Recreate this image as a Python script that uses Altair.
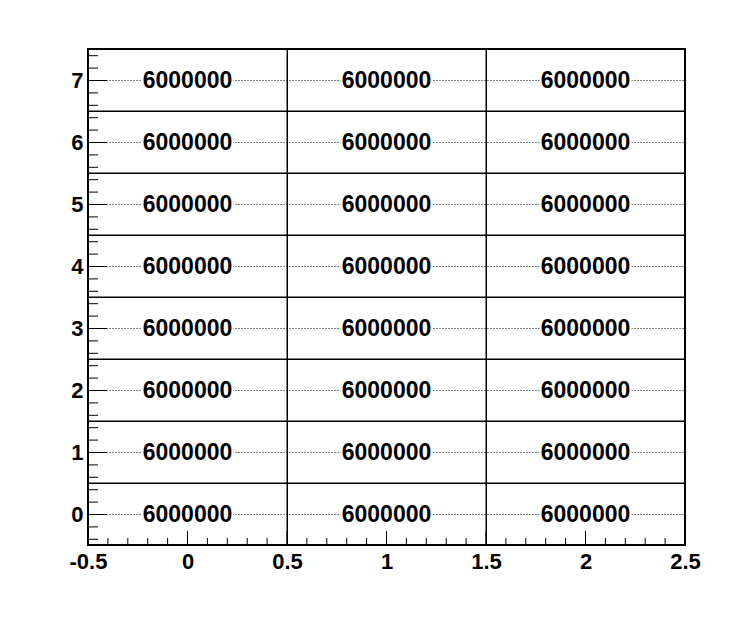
import altair as alt
import pandas as pd

# Bin centres and contents
x_centers = [0, 1, 2]
y_centers = [0, 1, 2, 3, 4, 5, 6, 7]
counts = [
    [6000000, 6000000, 6000000],  # y=0
    [6000000, 6000000, 6000000],  # y=1
    [6000000, 6000000, 6000000],  # y=2
    [6000000, 6000000, 6000000],  # y=3
    [6000000, 6000000, 6000000],  # y=4
    [6000000, 6000000, 6000000],  # y=5
    [6000000, 6000000, 6000000],  # y=6
    [6000000, 6000000, 6000000],  # y=7
]
x_major = [-0.5, 0, 0.5, 1, 1.5, 2, 2.5]
x_minor = [v / 10 for v in range(-5, 26) if v % 5 != 0]
y_major = [0, 1, 2, 3, 4, 5, 6, 7]
y_minor = [v / 10 for v in range(-4, 75, 2) if v % 10 != 0]

W, H = 597, 496
FONT = "Liberation Sans"

rows = []
for j, yv in enumerate(y_centers):
    for i, xv in enumerate(x_centers):
        rows.append({"x": xv, "y": yv, "x0": xv - 0.5, "x1": xv + 0.5,
                     "y0": yv - 0.5, "y1": yv + 0.5, "v": counts[j][i]})
cells = pd.DataFrame(rows)

xs = alt.Scale(domain=[-0.5, 2.5], nice=False, zero=False)
ys = alt.Scale(domain=[-0.5, 7.5], nice=False, zero=False)

xaxis = alt.Axis(values=x_major, grid=False, ticks=False, tickSize=0, domain=False,
                 labelFont=FONT, labelFontWeight="bold", labelFontSize=22,
                 labelColor="black", labelPadding=6, title=None,
                 labelExpr="'' + datum.value", labelFlush=False, labelOverlap=False)
yaxis = alt.Axis(values=y_major, grid=True, gridDash=[1, 2], gridColor="black",
                 gridOpacity=1, gridWidth=1, ticks=False, tickSize=0, domain=False,
                 labelFont=FONT, labelFontWeight="bold", labelFontSize=22,
                 labelColor="black", labelPadding=5, title=None,
                 labelExpr="'' + datum.value")

base = alt.Chart(cells)

boxes = base.mark_rect(fill=None, stroke="black", strokeWidth=1, xOffset=0.5, yOffset=0.5).encode(
    x=alt.X("x0:Q", scale=xs, axis=xaxis, title=None),
    x2="x1:Q",
    y=alt.Y("y0:Q", scale=ys, axis=yaxis, title=None),
    y2="y1:Q",
)

halo = base.mark_text(font=FONT, fontWeight="bold", fontSize=23, stroke="white",
                      strokeWidth=4, fill="white", baseline="middle", dy=1).encode(
    x=alt.X("x:Q", scale=xs, axis=xaxis, title=None),
    y=alt.Y("y:Q", scale=ys, axis=yaxis, title=None), text="v:N")
txt = base.mark_text(font=FONT, fontWeight="bold", fontSize=23, color="black",
                     baseline="middle", dy=1).encode(
    x=alt.X("x:Q", scale=xs, axis=xaxis, title=None),
    y=alt.Y("y:Q", scale=ys, axis=yaxis, title=None), text="v:N")

ymaj = alt.Chart(pd.DataFrame({"t": y_major})).mark_rule(color="black", strokeWidth=1, yOffset=0.5).encode(
    y=alt.Y("t:Q", scale=ys, axis=yaxis, title=None), x=alt.value(0), x2=alt.value(19))
ymin = alt.Chart(pd.DataFrame({"t": y_minor})).mark_rule(color="black", strokeWidth=1, yOffset=0.5).encode(
    y=alt.Y("t:Q", scale=ys, axis=yaxis, title=None), x=alt.value(0), x2=alt.value(10))
xmaj = alt.Chart(pd.DataFrame({"t": x_major})).mark_rule(color="black", strokeWidth=1).encode(
    x=alt.X("t:Q", scale=xs, axis=xaxis, title=None), y=alt.value(H), y2=alt.value(H - 14))
xmin = alt.Chart(pd.DataFrame({"t": x_minor})).mark_rule(color="black", strokeWidth=1).encode(
    x=alt.X("t:Q", scale=xs, axis=xaxis, title=None), y=alt.value(H), y2=alt.value(H - 7))

chart = alt.layer(boxes, halo, txt, ymaj, ymin, xmaj, xmin).properties(
    width=W, height=H,
    autosize=alt.AutoSizeParams(type="none"),
    padding={"left": 80, "top": 41, "right": 53, "bottom": 69},
    background="white",
).configure_view(stroke="black", strokeWidth=2)

chart.save("out.html", embed_options={"renderer": "svg", "actions": False})
